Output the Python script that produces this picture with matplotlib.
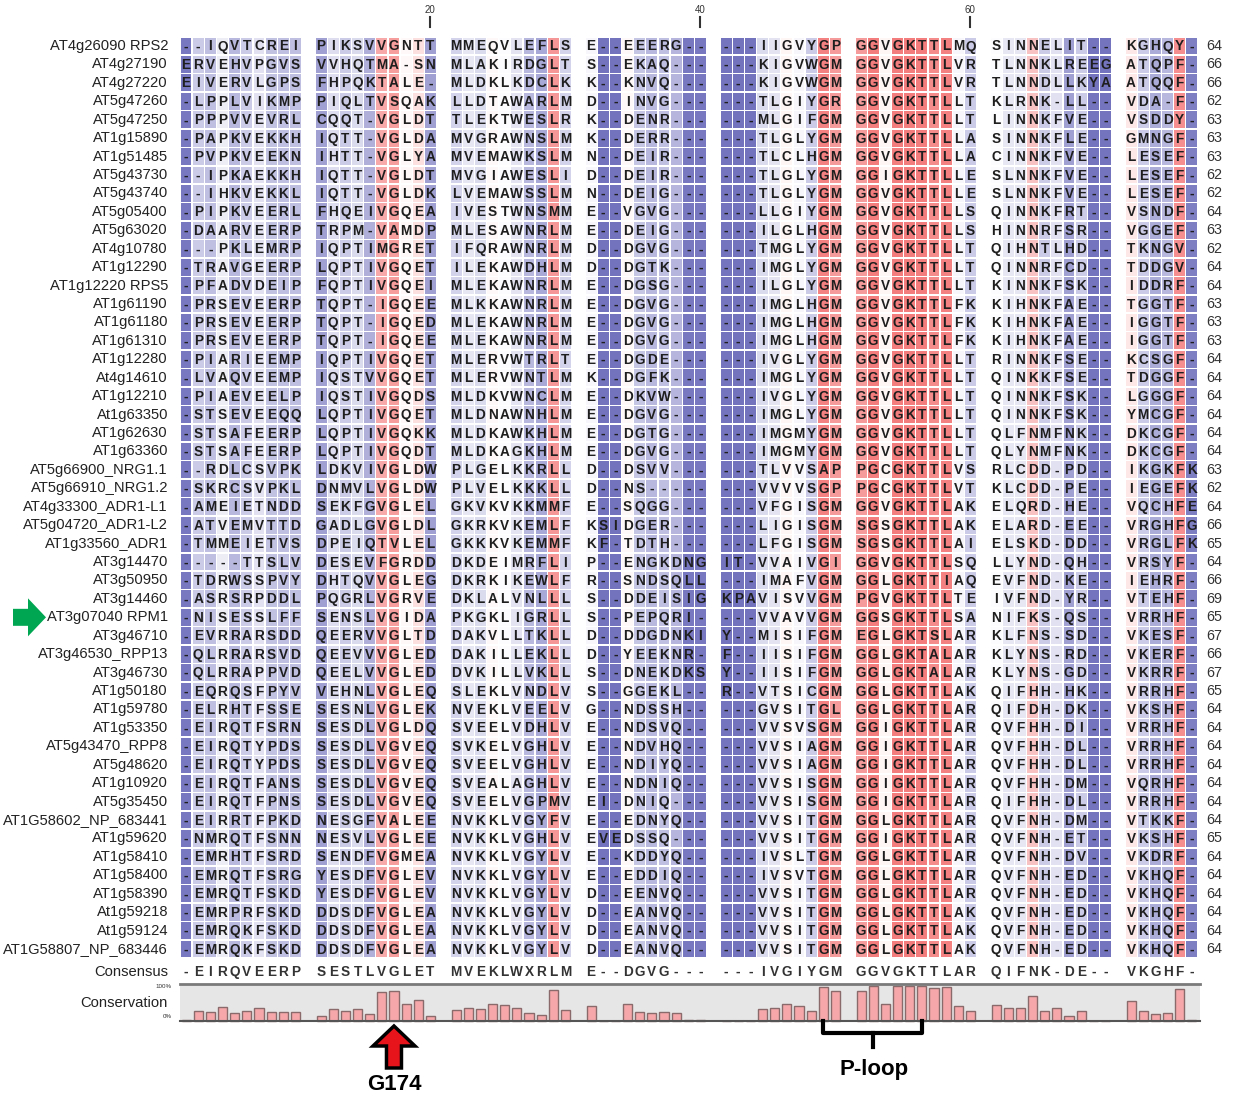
import matplotlib
matplotlib.use("Agg")
import matplotlib.pyplot as plt
import matplotlib.patches as mpatches
from matplotlib.colors import LinearSegmentedColormap

plt.rcParams['font.family'] = ['Liberation Sans', 'DejaVu Sans']

# sequence names, aligned residues (blocks of 10) and lengths
names = [
    "AT4g26090 RPS2", "AT4g27190", "AT4g27220", "AT5g47260", "AT5g47250",
    "AT1g15890", "AT1g51485", "AT5g43730", "AT5g43740", "AT5g05400",
    "AT5g63020", "AT4g10780", "AT1g12290", "AT1g12220 RPS5", "AT1g61190",
    "AT1g61180", "AT1g61310", "AT1g12280", "At4g14610", "AT1g12210",
    "At1g63350", "AT1g62630", "AT1g63360", "AT5g66900_NRG1.1", "AT5g66910_NRG1.2",
    "AT4g33300_ADR1-L1", "AT5g04720_ADR1-L2", "AT1g33560_ADR1", "AT3g14470", "AT3g50950",
    "AT3g14460", "AT3g07040 RPM1", "AT3g46710", "AT3g46530_RPP13", "AT3g46730",
    "AT1g50180", "AT1g59780", "AT1g53350", "AT5g43470_RPP8", "AT5g48620",
    "AT1g10920", "AT5g35450", "AT1G58602_NP_683441", "AT1g59620", "AT1g58410",
    "AT1g58400", "AT1g58390", "At1g59218", "At1g59124", "AT1G58807_NP_683446",
]

seqs = [
    "--IQVTCREI PIKSVVGNTT MMEQVLEFLS E--EEERG-- ---IIGVYGP GGVGKTTLMQ SINNELIT-- KGHQY-",
    "ERVEHVPGVS VVHQTMA-SN MLAKIRDGLT S--EKAQ--- ---KIGVWGM GGVGKTTLVR TLNNKLREEG ATQPF-",
    "EIVERVLGPS FHPQKTALE- MLDKLKDCLK K--KNVQ--- ---KIGVWGM GGVGKTTLVR TLNNDLLKYA ATQQF-",
    "-LPPLVIKMP PIQLTVSQAK LLDTAWARLM D--INVG--- ---TLGIYGR GGVGKTTLLT KLRNK-LL-- VDA-F-",
    "-PPPVVEVRL CQQT-VGLDT TLEKTWESLR K--DENR--- ---MLGIFGM GGVGKTTLLT LINNKFVE-- VSDDY-",
    "-PAPKVEKKH IQTT-VGLDA MVGRAWNSLM K--DERR--- ---TLGLYGM GGVGKTTLLA SINNKFLE-- GMNGF-",
    "-PVPKVEEKN IHTT-VGLYA MVEMAWKSLM N--DEIR--- ---TLCLHGM GGVGKTTLLA CINNKFVE-- LESEF-",
    "--IPKAEKKH IQTT-VGLDT MVGIAWESLI D--DEIR--- ---TLGLYGM GGIGKTTLLE SLNNKFVE-- LESEF-",
    "--IHKVEKKL IQTT-VGLDK LVEMAWSSLM N--DEIG--- ---TLGLYGM GGVGKTTLLE SLNNKFVE-- LESEF-",
    "-PIPKVEERL FHQEIVGQEA IVESTWNSMM E--VGVG--- ---LLGIYGM GGVGKTTLLS QINNKFRT-- VSNDF-",
    "-DAARVEERP TRPM-VAMDP MLESAWNRLM E--DEIG--- ---ILGLHGM GGVGKTTLLS HINNRFSR-- VGGEF-",
    "---PKLEMRP IQPTIMGRET IFQRAWNRLM D--DGVG--- ---TMGLYGM GGVGKTTLLT QIHNTLHD-- TKNGV-",
    "-TRAVGEERP LQPTIVGQET ILEKAWDHLM D--DGTK--- ---IMGLYGM GGVGKTTLLT QINNRFCD-- TDDGV-",
    "-PFADVDEIP FQPTIVGQEI MLEKAWNRLM E--DGSG--- ---ILGLYGM GGVGKTTLLT KINNKFSK-- IDDRF-",
    "-PRSEVEERP TQPT-IGQEE MLKKAWNRLM E--DGVG--- ---IMGLHGM GGVGKTTLFK KIHNKFAE-- TGGTF-",
    "-PRSEVEERP TQPT-IGQED MLEKAWNRLM E--DGVG--- ---IMGLHGM GGVGKTTLFK KIHNKFAE-- IGGTF-",
    "-PRSEVEERP TQPT-IGQEE MLEKAWNRLM E--DGVG--- ---IMGLHGM GGVGKTTLFK KIHNKFAE-- IGGTF-",
    "-PIARIEEMP IQPTIVGQET MLERVWTRLT E--DGDE--- ---IVGLYGM GGVGKTTLLT RINNKFSE-- KCSGF-",
    "-LVAQVEEMP IQSTVVGQET MLERVWNTLM K--DGFK--- ---IMGLYGM GGVGKTTLLT QINKKFSE-- TDGGF-",
    "-PIAEVEELP IQSTIVGQDS MLDKVWNCLM E--DKVW--- ---IVGLYGM GGVGKTTLLT QINNKFSK-- LGGGF-",
    "-STSEVEEQQ LQPTIVGQET MLDNAWNHLM E--DGVG--- ---IMGLYGM GGVGKTTLLT QINNKFSK-- YMCGF-",
    "-STSAFEERP LQPTIVGQKK MLDKAWKHLM E--DGTG--- ---IMGMYGM GGVGKTTLLT QLFNMFNK-- DKCGF-",
    "-STSAFEERP LQPTIVGQDT MLDKAGKHLM E--DGVG--- ---IMGMYGM GGVGKTTLLT QLYNMFNK-- DKCGF-",
    "--RDLCSVPK LDKVIVGLDW PLGELKKRLL D--DSVV--- ---TLVVSAP PGCGKTTLVS RLCDD-PD-- IKGKFK",
    "-SKRCSVPKL DNMVLVGLDW PLVELKKKLL D--NS----- ---VVVVSGP PGCGKTTLVT KLCDD-PE-- IEGEFK",
    "-AMEIETNDD SEKFGVGLEL GKVKVKKMMF E--SQGG--- ---VFGISGM GGVGKTTLAK ELQRD-HE-- VQCHFE",
    "-ATVEMVTTD GADLGVGLDL GKRKVKEMLF KSIDGER--- ---LIGISGM SGSGKTTLAK ELARD-EE-- VRGHFG",
    "-TMMEIETVS DPEIQTVLEL GKKKVKEMMF KF-TDTH--- ---LFGISGM SGSGKTTLAI ELSKD-DD-- VRGLFK",
    "-----TTSLV DESEVFGRDD DKDEIMRFLI P--ENGKDNG IT-VVAIVGI GGVGKTTLSQ LLYND-QH-- VRSYF-",
    "-TDRWSSPVY DHTQVVGLEG DKRKIKEWLF R--SNDSQLL ---IMAFVGM GGLGKTTIAQ EVFND-KE-- IEHRF-",
    "-ASRSRPDDL PQGRLVGRVE DKLALVNLLL S--DDEISIG KPAVISVVGM PGVGKTTLTE IVFND-YR-- VTEHF-",
    "-NISESSLFF SENSLVGIDA PKGKLIGRLL S--PEPQRI- ---VVAVVGM GGSGKTTLSA NIFKS-QS-- VRRHF-",
    "-EVRRARSDD QEERVVGLTD DAKVLLTKLL D--DDGDNKI Y--MISIFGM EGLGKTSLAR KLFNS-SD-- VKESF-",
    "-QLRRARSVD QEEVVVGLED DAKILLEKLL D--YEEKNR- F--IISIFGM GGLGKTALAR KLYNS-RD-- VKERF-",
    "-QLRRAPPVD QEELVVGLED DVKILLVKLL S--DNEKDKS Y--IISIFGM GGLGKTALAR KLYNS-GD-- VKRRF-",
    "-EQRQSFPYV VEHNLVGLEQ SLEKLVNDLV S--GGEKL-- R--VTSICGM GGLGKTTLAK QIFHH-HK-- VRRHF-",
    "-ELRHTFSSE SESNLVGLEK NVEKLVEELV G--NDSSH-- ---GVSITGL GGLGKTTLAR QIFDH-DK-- VKSHF-",
    "-EIRQTFSRN SESDLVGLDQ SVEELVDHLV E--NDSVQ-- ---VVSVSGM GGIGKTTLAR QVFHH-DI-- VRRHF-",
    "-EIRQTYPDS SESDLVGVEQ SVKELVGHLV E--NDVHQ-- ---VVSIAGM GGIGKTTLAR QVFHH-DL-- VRRHF-",
    "-EIRQTYPDS SESDLVGVEQ SVEELVGHLV E--NDIYQ-- ---VVSIAGM GGIGKTTLAR QVFHH-DL-- VRRHF-",
    "-EIRQTFANS SESDLVGVEQ SVEALAGHLV E--NDNIQ-- ---VVSISGM GGIGKTTLAR QVFHH-DM-- VQRHF-",
    "-EIRQTFPNS SESDLVGVEQ SVEELVGPMV EI-DNIQ--- ---VVSISGM GGIGKTTLAR QIFHH-DL-- VRRHF-",
    "-EIRRTFPKD NESGFVALEE NVKKLVGYFV E--EDNYQ-- ---VVSITGM GGLGKTTLAR QVFNH-DM-- VTKKF-",
    "-NMRQTFSNN NESVLVGLEE NVKKLVGHLV EVEDSSQ--- ---VVSITGM GGIGKTTLAR QVFNH-ET-- VKSHF-",
    "-EMRHTFSRD SENDFVGMEA NVKKLVGYLV E--KDDYQ-- ---IVSLTGM GGLGKTTLAR QVFNH-DV-- VKDRF-",
    "-EMRQTFSRG YESDFVGLEV NVKKLVGYLV E--EDDIQ-- ---IVSVTGM GGLGKTTLAR QVFNH-ED-- VKHQF-",
    "-EMRQTFSKD YESDFVGLEV NVKKLVGYLV D--EENVQ-- ---VVSITGM GGLGKTTLAR QVFNH-ED-- VKHQF-",
    "-EMRPRFSKD DDSDFVGLEA NVKKLVGYLV D--EANVQ-- ---VVSITGM GGLGKTTLAK QVFNH-ED-- VKHQF-",
    "-EMRQKFSKD DDSDFVGLEA NVKKLVGYLV D--EANVQ-- ---VVSITGM GGLGKTTLAK QVFNH-ED-- VKHQF-",
    "-EMRQKFSKD DDSDFVGLEA NVKKLVGYLV D--EANVQ-- ---VVSITGM GGLGKTTLAK QVFNH-ED-- VKHQF-",
]

lengths = [64, 66, 66, 62, 63, 63, 63, 62, 62, 64, 63, 62, 64, 64, 63, 63, 63, 64, 64, 64,
           64, 64, 64, 63, 62, 64, 66, 65, 64, 66, 69, 65, 67, 66, 67, 65, 64, 64, 64, 64,
           64, 64, 64, 65, 64, 64, 64, 64, 64, 64]

consensus = "-EIRQVEERP SESTLVGLET MVEKLWXRLM E--DGVG--- ---IVGIYGM GGVGKTTLAR QIFNK-DE-- VKGHF-"

# conservation per column, percent
conservation = [2, 29, 25, 40, 23, 29, 36, 26, 25, 25,
                15, 35, 29, 34, 20, 82, 86, 49, 59, 15,
                32, 38, 34, 49, 45, 37, 23, 18, 89, 32,
                43, 0, 0, 49, 27, 23, 25, 22, 2, 2,
                1, 0, 0, 34, 37, 50, 43, 29, 98, 87,
                87, 100, 50, 100, 100, 100, 93, 98, 43, 29,
                45, 38, 38, 71, 29, 36, 15, 29, 1, 1,
                56, 29, 19, 23, 92, 4]

tick_cols = [20, 40, 60]
g174_col = 17
ploop_cols = (49, 56)
marked_row = "AT3g07040 RPM1"

seqs = [s.replace(" ", "") for s in seqs]
consensus = consensus.replace(" ", "")
ncol = len(consensus)

# layout (pixel units of the figure)
W, H = 1233, 1097
X0 = 180.0
CW = 12.15
BLOCK = 135.0
ROW0 = 46.0
RH = 18.43


def col_x(c):
    # c is 0-based
    return X0 + (c // 10) * BLOCK + (c % 10) * CW + CW / 2


def row_y(r):
    return ROW0 + r * RH


cmap = LinearSegmentedColormap.from_list(
    "cons", [(0.0, "#7272bd"), (0.46, "#ffffff"), (1.0, "#f37c7c")])

fig = plt.figure(figsize=(W / 100, H / 100), dpi=100)
ax = fig.add_axes([0, 0, 1, 1])
ax.set_xlim(0, W)
ax.set_ylim(H, 0)
ax.axis("off")

# alignment cells
xs, ys, cols = [], [], []
for r in range(len(seqs)):
    for c in range(ncol):
        xs.append(col_x(c))
        ys.append(row_y(r))
        cols.append(cmap(conservation[c] / 100.0))
ch = RH - 1.6
ax.bar(xs, [ch] * len(xs), width=CW - 1.3, bottom=[y - ch / 2 for y in ys],
       color=cols, linewidth=0)

for r, s in enumerate(seqs):
    y = row_y(r)
    ax.text(X0 - 12, y, names[r], ha="right", va="center", fontsize=10.6, color="#222222")
    for c, aa in enumerate(s):
        ax.text(col_x(c), y + 0.5, aa, ha="center", va="center", fontsize=9.8,
                fontweight="bold", color="#1e1e1e")
    ax.text(col_x(ncol - 1) + 14, y, str(lengths[r]), ha="left", va="center",
            fontsize=10.4, color="#333333")

# column ruler
for t in tick_cols:
    x = col_x(t - 1)
    ax.text(x, 10, str(t), ha="center", va="center", fontsize=7, color="#333333")
    ax.plot([x, x], [17, 27], color="#333333", lw=1.5)

# consensus
yc = row_y(len(seqs) - 1) + 23
ax.text(X0 - 12, yc, "Consensus", ha="right", va="center", fontsize=10.6, color="#222222")
for c, aa in enumerate(consensus):
    ax.text(col_x(c), yc, aa, ha="center", va="center", fontsize=9.8,
            fontweight="bold", color="#333333")

# conservation plot
top, base = 984.0, 1021.0
right = col_x(ncol - 1) + CW / 2 + 2
ax.add_patch(mpatches.Rectangle((X0, top), right - X0, base - top,
                                facecolor="#e6e6e6", edgecolor="none"))
ax.plot([X0, right], [top, top], color="#7a7a7a", lw=2)
ax.plot([X0, right], [base, base], color="#555555", lw=1.5)
bx = [col_x(c) for c in range(ncol)]
bh = [v / 100.0 * (base - top - 2) for v in conservation]
ax.bar(bx, bh, width=CW - 3, bottom=[base - h for h in bh],
       facecolor="#f5a7aa", edgecolor="#8a6a6a", linewidth=1)
ax.text(X0 - 8, top + 2, "100%", ha="right", va="center", fontsize=4.5, color="#333333")
ax.text(X0 - 8, base - 4, "0%", ha="right", va="center", fontsize=4.5, color="#333333")
ax.text(X0 - 12, 1003, "Conservation", ha="right", va="center", fontsize=10.6, color="#222222")

# G174 arrow
gx = col_x(g174_col - 1)
ax.add_patch(mpatches.FancyArrow(gx, 1068, 0, -42, width=15, head_width=42,
                                 head_length=20, length_includes_head=True,
                                 facecolor="#e8141c", edgecolor="black", lw=2.5))
ax.text(gx, 1085, "G174", ha="center", va="center", fontsize=16, fontweight="bold")

# P-loop bracket
lx, rx = col_x(ploop_cols[0] - 1), col_x(ploop_cols[1] - 1)
mx = (lx + rx) / 2
ax.plot([lx, lx, rx, rx], [1021, 1033, 1033, 1021], color="black", lw=3,
        solid_joinstyle="round")
ax.plot([mx, mx], [1033, 1047], color="black", lw=3)
ax.text(mx + 2, 1070, "P-loop", ha="center", va="center", fontsize=16, fontweight="bold")

# green marker for RPM1
ry = row_y(names.index(marked_row))
ax.add_patch(mpatches.FancyArrow(13, ry, 33, 0, width=17, head_width=38,
                                 head_length=18, length_includes_head=True,
                                 facecolor="#00a651", edgecolor="none"))

fig.savefig("out.png", dpi=100)
